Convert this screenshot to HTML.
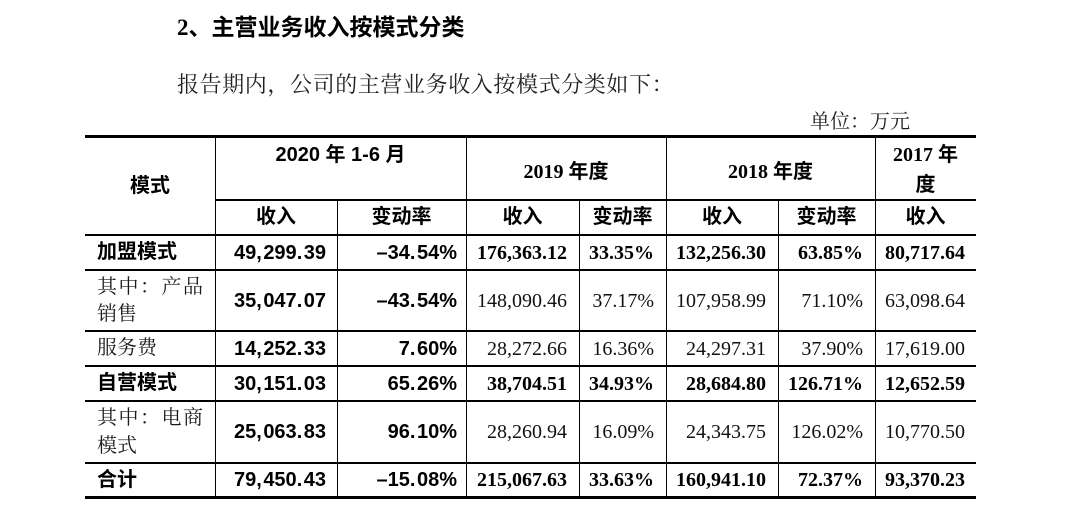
<!DOCTYPE html>
<html>
<head>
<meta charset="utf-8">
<style>
html,body{margin:0;padding:0;background:#fff;}
body{width:1080px;height:508px;position:relative;overflow:hidden;}
.t{position:absolute;white-space:nowrap;height:30px;line-height:30px;color:#000;}
.h{position:absolute;background:#000;}
.v{position:absolute;background:#000;width:1.5px;}
.hd{font-family:"Liberation Serif","Noto Sans CJK SC",sans-serif;font-weight:700;font-size:20px;text-align:center;}
.hs{font-family:"Liberation Sans","Noto Sans CJK SC",sans-serif;font-weight:700;font-size:20px;text-align:center;}
.lb{font-family:"Liberation Sans","Noto Sans CJK SC",sans-serif;font-weight:700;font-size:20px;}
.lr{font-family:"Liberation Serif","Noto Serif CJK SC",serif;font-size:20px;color:#1a1a1a;}
.n20{font-family:"Liberation Sans","Noto Sans CJK SC",sans-serif;font-weight:700;font-size:20px;text-align:right;}
.n20 i{font-style:normal;margin-right:1.5px;}
.ns{font-family:"Liberation Serif","Noto Serif CJK SC",serif;font-size:20px;text-align:right;color:#111;}
.nb{font-family:"Liberation Serif","Noto Serif CJK SC",serif;font-size:20px;font-weight:700;text-align:right;}
.just{display:flex;justify-content:space-between;}
</style>
</head>
<body>
<!-- title -->
<div class="t" style="left:177px;top:10px;font-family:'Liberation Serif','Noto Sans CJK SC',sans-serif;font-weight:700;font-size:23px;">2<span style="font-family:'Noto Sans CJK SC',sans-serif;font-size:23px;">、主营业务收入按模式分类</span></div>
<!-- paragraph -->
<div class="t" style="left:177px;top:70px;font-family:'Liberation Serif','Noto Serif CJK SC',serif;font-size:22px;letter-spacing:0.6px;color:#222;">报告期内，公司的主营业务收入按模式分类如下：</div>
<div class="t" style="left:810px;top:107px;font-family:'Liberation Serif','Noto Serif CJK SC',serif;font-size:20px;color:#222;">单位：万元</div>

<!-- horizontal lines -->
<div class="h" style="left:85px;width:891px;top:135px;height:3px;"></div>
<div class="h" style="left:215px;width:761px;top:199px;height:2px;"></div>
<div class="h" style="left:85px;width:891px;top:234px;height:2px;"></div>
<div class="h" style="left:85px;width:891px;top:269px;height:2px;"></div>
<div class="h" style="left:85px;width:891px;top:330px;height:2px;"></div>
<div class="h" style="left:85px;width:891px;top:365px;height:2px;"></div>
<div class="h" style="left:85px;width:891px;top:400px;height:2px;"></div>
<div class="h" style="left:85px;width:891px;top:462px;height:2px;"></div>
<div class="h" style="left:85px;width:891px;top:496px;height:3px;"></div>

<!-- vertical lines -->
<div class="v" style="left:214.5px;top:137px;height:360px;"></div>
<div class="v" style="left:336.5px;top:200px;height:297px;"></div>
<div class="v" style="left:465.5px;top:137px;height:360px;"></div>
<div class="v" style="left:578.5px;top:200px;height:297px;"></div>
<div class="v" style="left:665.5px;top:137px;height:360px;"></div>
<div class="v" style="left:777.5px;top:200px;height:297px;"></div>
<div class="v" style="left:874.5px;top:137px;height:360px;"></div>

<!-- header -->
<div class="t hs" style="left:85px;width:130px;top:171px;">模式</div>
<div class="t hs" style="left:215px;width:251px;top:140px;">2020 年 1-6 月</div>
<div class="t hd" style="left:466px;width:200px;top:157px;">2019 年度</div>
<div class="t hd" style="left:666px;width:209px;top:157px;">2018 年度</div>
<div class="t hd" style="left:875px;width:101px;top:140px;">2017 年</div>
<div class="t hd" style="left:875px;width:101px;top:170px;">度</div>

<div class="t hs" style="left:215px;width:122px;top:202px;">收入</div>
<div class="t hs" style="left:337px;width:129px;top:202px;">变动率</div>
<div class="t hs" style="left:466px;width:113px;top:202px;">收入</div>
<div class="t hs" style="left:579px;width:87px;top:202px;">变动率</div>
<div class="t hs" style="left:666px;width:112px;top:202px;">收入</div>
<div class="t hs" style="left:778px;width:97px;top:202px;">变动率</div>
<div class="t hs" style="left:875px;width:101px;top:202px;">收入</div>

<!-- row labels -->
<div class="t lb" style="left:97px;top:237px;">加盟模式</div>
<div class="t lr just" style="left:97px;width:106px;top:272px;"><span>其</span><span>中</span><span>：</span><span>产</span><span>品</span></div>
<div class="t lr" style="left:97px;top:299px;">销售</div>
<div class="t lr" style="left:97px;top:333px;">服务费</div>
<div class="t lb" style="left:97px;top:368px;">自营模式</div>
<div class="t lr just" style="left:97px;width:106px;top:403px;"><span>其</span><span>中</span><span>：</span><span>电</span><span>商</span></div>
<div class="t lr" style="left:97px;top:431px;">模式</div>
<div class="t lb" style="left:97px;top:465px;">合计</div>

<!-- row 1 加盟模式 -->
<div class="t n20" style="left:215px;width:111px;top:238px;">49<i>,</i>299<i>.</i>39</div>
<div class="t n20" style="left:337px;width:120px;top:238px;">–34<i>.</i>54%</div>
<div class="t nb" style="left:466px;width:101px;top:238px;">176,363.12</div>
<div class="t nb" style="left:579px;width:75px;top:238px;">33.35%</div>
<div class="t nb" style="left:666px;width:100px;top:238px;">132,256.30</div>
<div class="t nb" style="left:778px;width:85px;top:238px;">63.85%</div>
<div class="t nb" style="left:875px;width:90px;top:238px;">80,717.64</div>

<!-- row 2 产品销售 -->
<div class="t n20" style="left:215px;width:111px;top:286px;">35<i>,</i>047<i>.</i>07</div>
<div class="t n20" style="left:337px;width:120px;top:286px;">–43<i>.</i>54%</div>
<div class="t ns" style="left:466px;width:101px;top:286px;">148,090.46</div>
<div class="t ns" style="left:579px;width:75px;top:286px;">37.17%</div>
<div class="t ns" style="left:666px;width:100px;top:286px;">107,958.99</div>
<div class="t ns" style="left:778px;width:85px;top:286px;">71.10%</div>
<div class="t ns" style="left:875px;width:90px;top:286px;">63,098.64</div>

<!-- row 3 服务费 -->
<div class="t n20" style="left:215px;width:111px;top:334px;">14<i>,</i>252<i>.</i>33</div>
<div class="t n20" style="left:337px;width:120px;top:334px;">7<i>.</i>60%</div>
<div class="t ns" style="left:466px;width:101px;top:334px;">28,272.66</div>
<div class="t ns" style="left:579px;width:75px;top:334px;">16.36%</div>
<div class="t ns" style="left:666px;width:100px;top:334px;">24,297.31</div>
<div class="t ns" style="left:778px;width:85px;top:334px;">37.90%</div>
<div class="t ns" style="left:875px;width:90px;top:334px;">17,619.00</div>

<!-- row 4 自营模式 -->
<div class="t n20" style="left:215px;width:111px;top:369px;">30<i>,</i>151<i>.</i>03</div>
<div class="t n20" style="left:337px;width:120px;top:369px;">65<i>.</i>26%</div>
<div class="t nb" style="left:466px;width:101px;top:369px;">38,704.51</div>
<div class="t nb" style="left:579px;width:75px;top:369px;">34.93%</div>
<div class="t nb" style="left:666px;width:100px;top:369px;">28,684.80</div>
<div class="t nb" style="left:778px;width:85px;top:369px;">126.71%</div>
<div class="t nb" style="left:875px;width:90px;top:369px;">12,652.59</div>

<!-- row 5 电商模式 -->
<div class="t n20" style="left:215px;width:111px;top:417px;">25<i>,</i>063<i>.</i>83</div>
<div class="t n20" style="left:337px;width:120px;top:417px;">96<i>.</i>10%</div>
<div class="t ns" style="left:466px;width:101px;top:417px;">28,260.94</div>
<div class="t ns" style="left:579px;width:75px;top:417px;">16.09%</div>
<div class="t ns" style="left:666px;width:100px;top:417px;">24,343.75</div>
<div class="t ns" style="left:778px;width:85px;top:417px;">126.02%</div>
<div class="t ns" style="left:875px;width:90px;top:417px;">10,770.50</div>

<!-- row 6 合计 -->
<div class="t n20" style="left:215px;width:111px;top:465px;">79<i>,</i>450<i>.</i>43</div>
<div class="t n20" style="left:337px;width:120px;top:465px;">–15<i>.</i>08%</div>
<div class="t nb" style="left:466px;width:101px;top:465px;">215,067.63</div>
<div class="t nb" style="left:579px;width:75px;top:465px;">33.63%</div>
<div class="t nb" style="left:666px;width:100px;top:465px;">160,941.10</div>
<div class="t nb" style="left:778px;width:85px;top:465px;">72.37%</div>
<div class="t nb" style="left:875px;width:90px;top:465px;">93,370.23</div>
</body>
</html>
